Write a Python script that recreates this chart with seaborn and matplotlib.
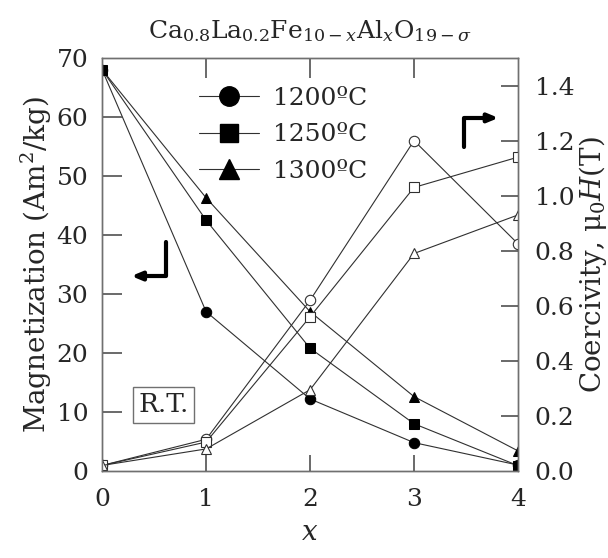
import matplotlib
matplotlib.use("Agg")
import matplotlib.pyplot as plt
import matplotlib.transforms as mtransforms
import seaborn as sns
import pandas as pd

# ---- data ----
x_vals = [0, 1, 2, 3, 4]
temps = ["1200ºC", "1250ºC", "1300ºC"]
mag_1200 = [68.0, 27.0, 12.2, 4.8, 1.0]
mag_1250 = [68.0, 42.5, 20.8, 8.0, 0.9]
mag_1300 = [68.0, 46.3, 27.0, 12.6, 3.4]
hc_1200 = [0.02, 0.115, 0.62, 1.20, 0.825]
hc_1250 = [0.02, 0.105, 0.56, 1.03, 1.14]
hc_1300 = [0.02, 0.080, 0.295, 0.79, 0.93]
markers = ["o", "s", "^"]
left_ticks = [0, 10, 20, 30, 40, 50, 60, 70]
right_ticks = [0.0, 0.2, 0.4, 0.6, 0.8, 1.0, 1.2, 1.4]

sns.set_style("ticks")
spine_c = "#707070"
tick_c = "#505050"
line_c = "#303030"
fs = 18
plt.rcParams.update({
    "font.family": ["DejaVu Serif"],
    "mathtext.fontset": "dejavuserif",
})

fig = plt.figure(figsize=(6.08, 5.58), dpi=100)
ax = fig.add_axes([0.168, 0.156, 0.684, 0.740])
ax2 = ax.twinx()

mags = [mag_1200, mag_1250, mag_1300]
hcs = [hc_1200, hc_1250, hc_1300]
handles = []
for t, m, mv, hv in zip(temps, markers, mags, hcs):
    df = pd.DataFrame({"x": x_vals, "mag": mv, "hc": hv})
    ms = 7.5 if m != "s" else 7
    sns.lineplot(data=df, x="x", y="mag", ax=ax, color=line_c, lw=0.8,
                 marker=m, markersize=ms, mfc="black", mec="black", legend=False)
    sns.lineplot(data=df, x="x", y="hc", ax=ax2, color=line_c, lw=0.8,
                 marker=m, markersize=ms, mfc="white", mec=line_c, mew=0.8,
                 legend=False)
    h, = ax.plot([], [], color=line_c, lw=0.8, marker=m,
                 markersize=14 if m != "s" else 13, mfc="black", mec="black", label=t)
    handles.append(h)

ax.set_xlim(0, 4)
ax.set_ylim(0, 70)
ax2.set_ylim(0, 1.5)
ax.set_xticks(x_vals)
ax.set_yticks(left_ticks)
ax.set_yticklabels([str(v) for v in left_ticks])
ax2.set_yticks(right_ticks)
ax2.set_yticklabels([f"{v:.1f}" for v in right_ticks])

for a in (ax, ax2):
    for s in a.spines.values():
        s.set_color(spine_c)
        s.set_linewidth(1.0)

ax.tick_params(axis="x", which="major", length=0, labelsize=fs, pad=12)
ax.tick_params(axis="y", which="major", length=0, labelsize=fs, pad=10)
ax2.tick_params(axis="y", which="major", length=0, labelsize=fs, pad=12)

# inward tick marks, drawn as axis-anchored segments at the tick positions
w_px, h_px = 416.0, 413.0
ty_left = mtransforms.blended_transform_factory(ax.transAxes, ax.transData)
ty_right = mtransforms.blended_transform_factory(ax2.transAxes, ax2.transData)
tx = mtransforms.blended_transform_factory(ax.transData, ax.transAxes)
for v in left_ticks[1:-1]:
    ax.plot([0, 20 / w_px], [v, v], transform=ty_left, color=tick_c, lw=1.2,
            zorder=6, clip_on=False, solid_capstyle="butt")
for v in right_ticks[1:]:
    ax2.plot([1 - 17 / w_px, 1], [v, v], transform=ty_right, color=tick_c, lw=1.2,
             zorder=6, clip_on=False, solid_capstyle="butt")
for v in x_vals[1:-1]:
    ax.plot([v, v], [0, 16 / h_px], transform=tx, color=tick_c, lw=1.2,
            zorder=6, clip_on=False, solid_capstyle="butt")
    ax.plot([v, v], [1 - 20 / h_px, 1], transform=tx, color=tick_c, lw=1.2,
            zorder=6, clip_on=False, solid_capstyle="butt")

ax.set_xlabel("$x$", fontsize=fs + 2, labelpad=6)
ax.set_ylabel("Magnetization (Am$^2$/kg)", fontsize=20, labelpad=2)
ax2.set_ylabel(r"Coercivity, μ$_0$$H$(T)", fontsize=20, labelpad=2)
ax.set_title(r"Ca$_{0.8}$La$_{0.2}$Fe$_{10-x}$Al$_x$O$_{19-\sigma}$", fontsize=18, pad=14)

leg = ax2.legend(handles=handles, loc="upper left", bbox_to_anchor=(0.21, 0.955),
                 frameon=False, fontsize=fs, handlelength=2.4, handletextpad=0.55,
                 labelspacing=0.55, borderaxespad=0)

# R.T. box
ax.text(0.088, 0.160, "R.T.", transform=ax.transAxes, fontsize=19,
        va="center", ha="left",
        bbox=dict(boxstyle="square,pad=0.2", fc="white", ec=spine_c, lw=1.0))

# direction arrows (left axis / right axis)
ap = dict(arrowstyle="-|>,head_length=0.6,head_width=0.25", lw=3, color="black",
          connectionstyle="angle,angleA=90,angleB=0,rad=0", shrinkA=0, shrinkB=0)
ax.annotate("", xy=(0.07, 0.472), xytext=(0.154, 0.554), xycoords="axes fraction",
            arrowprops=ap)
ax.annotate("", xy=(0.953, 0.855), xytext=(0.870, 0.785), xycoords="axes fraction",
            arrowprops=ap)

fig.savefig("out.png", dpi=100)
